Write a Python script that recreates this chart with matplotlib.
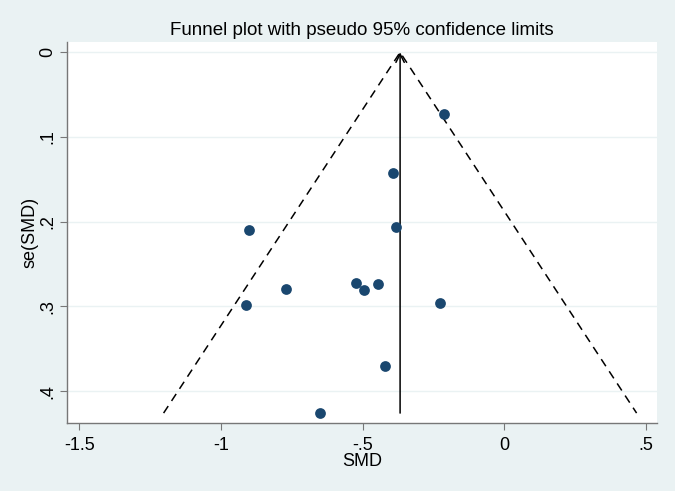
import numpy as np
import matplotlib.pyplot as plt

plt.rcParams['font.family'] = ['Liberation Sans', 'DejaVu Sans']

# study effects (SMD) and standard errors
smd = [-0.212, -0.392, -0.381, -0.900, -0.913, -0.770, -0.650,
       -0.525, -0.495, -0.445, -0.228, -0.421]
se = [0.073, 0.142, 0.206, 0.210, 0.298, 0.280, 0.426,
      0.272, 0.281, 0.273, 0.296, 0.370]
pooled = -0.368

xticks = [-1.5, -1, -0.5, 0, 0.5]
xticklabels = ['-1.5', '-1', '-.5', '0', '.5']
yticks = [0, 0.1, 0.2, 0.3, 0.4]
yticklabels = ['0', '.1', '.2', '.3', '.4']

bg = '#EAF2F3'
navy = '#1A476F'

fig = plt.figure(figsize=(6.75, 4.91), dpi=100, facecolor=bg)
ax = fig.add_axes([67 / 675, 1 - 423 / 491, (657 - 67) / 675, (423 - 42) / 491])
ax.set_facecolor('white')

# pseudo 95% limits
se_max = max(se)
ax.plot([pooled - 1.96 * se_max, pooled, pooled + 1.96 * se_max],
        [se_max, 0, se_max], color='black', lw=1.1, ls=(0, (5.5, 4)))
ax.annotate('', xy=(pooled, 0), xytext=(pooled, se_max),
            arrowprops=dict(arrowstyle='->', color='black', lw=1.1,
                            mutation_scale=15, shrinkA=0, shrinkB=0))

ax.scatter(smd, se, s=60, color=navy, zorder=3, linewidths=0)

ax.set_xlim(-1.544, 0.539)
ax.set_ylim(0.4377, -0.0122)
ax.set_xticks(xticks)
ax.set_xticklabels(xticklabels)
ax.set_yticks(yticks)
ax.set_yticklabels(yticklabels, rotation=90, va='center')
ax.grid(axis='y', color=bg, lw=1)
ax.set_axisbelow(True)

for side in ['top', 'right']:
    ax.spines[side].set_visible(False)
for side in ['left', 'bottom']:
    ax.spines[side].set_color('#777777')
    ax.spines[side].set_linewidth(1)
ax.tick_params(colors='#777777', labelcolor='black', labelsize=13, length=5, pad=5)
ax.tick_params(axis='y', pad=3)

ax.set_xlabel('SMD', fontsize=13, labelpad=-1)
ax.set_ylabel('se(SMD)', fontsize=13, labelpad=0)
ax.set_title('Funnel plot with pseudo 95% confidence limits', fontsize=13.5, pad=5)

plt.savefig('out.png', dpi=100, facecolor=bg)
